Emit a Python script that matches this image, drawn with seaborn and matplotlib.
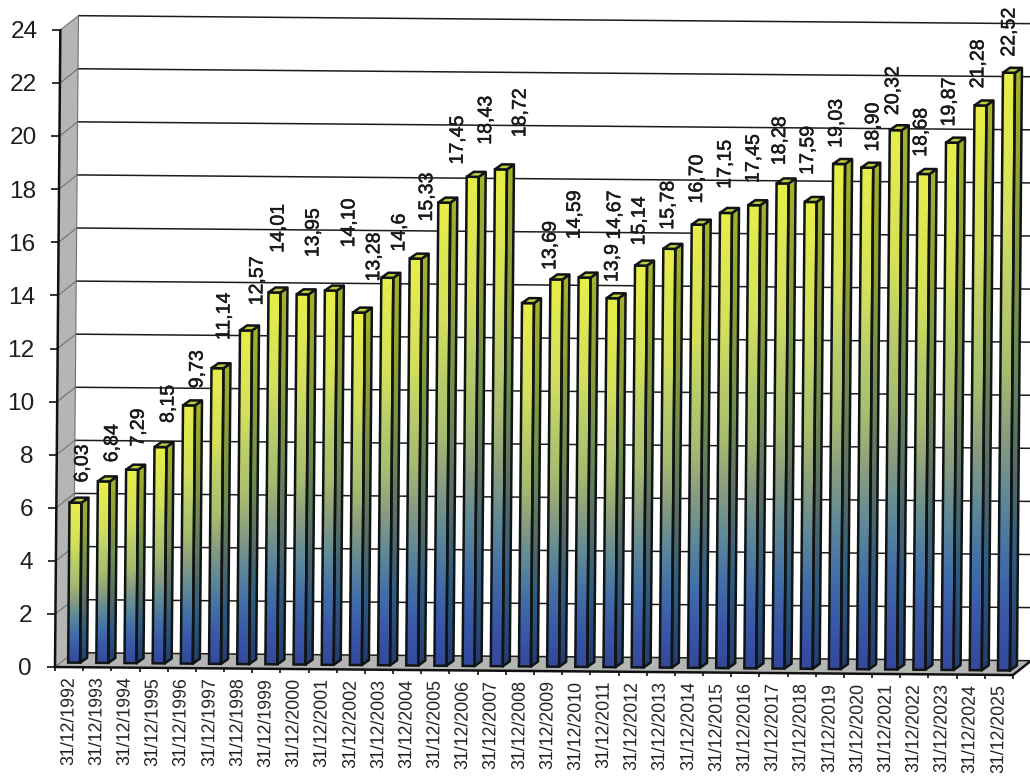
import numpy as np
import pandas as pd
import seaborn as sns
import matplotlib
matplotlib.use("Agg")
import matplotlib.pyplot as plt
import matplotlib.patheffects as pe
from matplotlib.colors import LinearSegmentedColormap
from matplotlib.patches import Polygon
from matplotlib.transforms import Affine2D

# Year-end dates and values
years = list(range(1992, 2026))
dates = [f"31/12/{y}" for y in years]
values = [6.03, 6.84, 7.29, 8.15, 9.73, 11.14, 12.57, 14.01, 13.95, 14.10, 13.28, 14.6,
          15.33, 17.45, 18.43, 18.72, 13.69, 14.59, 14.67, 13.9, 15.14, 15.78, 16.70,
          17.15, 17.45, 18.28, 17.59, 19.03, 18.90, 20.32, 18.68, 19.87, 21.28, 22.52]
value_labels = ["6,03", "6,84", "7,29", "8,15", "9,73", "11,14", "12,57", "14,01", "13,95",
                "14,10", "13,28", "14,6", "15,33", "17,45", "18,43", "18,72", "13,69",
                "14,59", "14,67", "13,9", "15,14", "15,78", "16,70", "17,15", "17,45",
                "18,28", "17,59", "19,03", "18,90", "20,32", "18,68", "19,87", "21,28",
                "22,52"]
y_ticks = list(range(0, 25, 2))

# Hand-placed label nudges (pixels) relative to the top of each bar
label_dx = [6.6, 8, 6, 7.5, 8, 6.5, 11, 3.6, 10.4, 18, 15, 11.7, 11, 13, 13, 19, 22, 18, 30,
            -0.5, -2, -1.5, -1, -1, -1, -3, -3, -3, 5.6, -3, -2.7, -3, -2.6, 0]
label_up = [20, 19, 23, 24, 17, 28, 25, 39.5, 37, 43, 31, 26, 37, 38, 32, 32, 33, 40, 38,
            16, 20, 19, 21, 24, 22, 18, 27, 16, 16, 15, 17, 16, 17, 16]

sns.set_theme(style="white")
plt.rcParams["font.family"] = ["Liberation Sans", "DejaVu Sans"]

W, H = 1030, 778
LEFT, BOTTOM, WIDTH, HEIGHT = 55, 111, 958, 637
fig = plt.figure(figsize=(W / 100, H / 100), dpi=100, facecolor="white")
ax = fig.add_axes([LEFT / W, BOTTOM / H, WIDTH / W, HEIGHT / H])
ax.set_facecolor("none")

df = pd.DataFrame({"date": dates, "value": values})
sns.barplot(data=df, x="date", y="value", width=0.425, ax=ax, fill=True,
            color="white", saturation=1, errorbar=None)
bars = list(ax.patches)
ax.set_xlabel("")
ax.set_ylabel("")
ax.set_xlim(-0.5, 33.5)
ax.set_ylim(0, 24)
ax.set_autoscale_on(False)
for side in ax.spines.values():
    side.set_visible(False)

# The whole chart sits slightly tilted clockwise on the page
tilt = Affine2D().rotate_deg_around(LEFT, BOTTOM, -0.48)
flat = ax.transData + tilt

x_unit, y_unit = WIDTH / 34, HEIGHT / 24


def depth(px_x, px_y):
    return px_x / x_unit, px_y / y_unit


# Wall and floor of the 3-D box
wall_dx, wall_dy = depth(18, 14.5)
x0, x1 = -0.5, 33.5
grey = "#b4b6b4"
ax.add_patch(Polygon([(x0, 0), (x0 + wall_dx, wall_dy), (x0 + wall_dx, 24 + wall_dy), (x0, 24)],
                     closed=True, fc=grey, ec="none", transform=flat, clip_on=False, zorder=1))
ax.add_patch(Polygon([(x0, 0), (x1, 0), (x1 + wall_dx, wall_dy), (x0 + wall_dx, wall_dy)],
                     closed=True, fc=grey, ec="none", transform=flat, clip_on=False, zorder=1))
for v in y_ticks:
    ax.plot([x0 + wall_dx, x1 + wall_dx], [v + wall_dy] * 2, color="#1c1c1c", lw=1.1,
            transform=flat, clip_on=False, zorder=1.5)
    ax.plot([x0, x0 + wall_dx], [v, v + wall_dy], color="#6f7370", lw=0.8,
            transform=flat, clip_on=False, zorder=1.5)
ax.plot([x0 + wall_dx] * 2, [wall_dy, 24 + wall_dy], color="#6f7370", lw=0.8,
        transform=flat, clip_on=False, zorder=1.5)
ax.plot([x0, x0], [0, 24], color="#111111", lw=1.8, transform=flat, clip_on=False, zorder=6)
ax.plot([x0, x1, x1 + wall_dx], [0, 0, wall_dy], color="#111111", lw=1.8,
        transform=flat, clip_on=False, zorder=6)

# Vertical fills used on the bars
front_cmap = LinearSegmentedColormap.from_list("front", [
    (0.00, "#34489c"), (0.10, "#3a5aa8"), (0.19, "#4470a8"), (0.29, "#5f8a98"),
    (0.39, "#8a9c80"), (0.50, "#a8bc70"), (0.62, "#b8cc6c"), (0.75, "#d4e05c"),
    (1.00, "#e8ee48")])
side_cmap = LinearSegmentedColormap.from_list("side", [
    (0.00, "#243c70"), (0.18, "#2e5a80"), (0.35, "#566c68"), (0.55, "#6f8a50"),
    (0.78, "#8ca038"), (1.00, "#a4b22c")])
ramp = np.linspace(1, 0, 256).reshape(-1, 1)

front_dx, front_dy = depth(5, 4.5)
side_dx, side_dy = depth(7, 5)
edge_color, edge_width = "#101414", 1.8


def gradient_face(corners, cmap, extent):
    face = Polygon(corners, closed=True, fc="none", ec=edge_color, lw=edge_width,
                   transform=flat, clip_on=False, zorder=4, joinstyle="round")
    ax.add_patch(face)
    img = ax.imshow(ramp, cmap=cmap, vmin=0, vmax=1, extent=extent, aspect="auto",
                    zorder=3, interpolation="bilinear")
    img.set_transform(flat)
    img.set_clip_box(fig.bbox)
    img.set_clip_path(face)


for k, bar in enumerate(bars):
    left = bar.get_x() + front_dx
    right = left + bar.get_width()
    base = front_dy
    top = bar.get_height() + front_dy
    # Front face: the bar itself, moved forward from the wall, with a fill laid under it
    bar.set_transform(Affine2D().translate(front_dx, front_dy) + flat)
    bar.set(facecolor="none", edgecolor=edge_color, linewidth=edge_width, zorder=4, clip_on=False)
    img = ax.imshow(ramp, cmap=front_cmap, vmin=0, vmax=1, extent=(left, right, base, top),
                    aspect="auto", zorder=3, interpolation="bilinear")
    img.set_transform(flat)
    img.set_clip_box(fig.bbox)
    # Side and cap of the box
    gradient_face([(right, base), (right + side_dx, base + side_dy),
                   (right + side_dx, top + side_dy), (right, top)],
                  side_cmap, (right, right + side_dx, base, top + side_dy))
    ax.add_patch(Polygon([(left, top), (right, top), (right + side_dx, top + side_dy),
                          (left + side_dx, top + side_dy)], closed=True, fc="#c4ce3a",
                         ec=edge_color, lw=edge_width, transform=flat, clip_on=False, zorder=4))
    # Value above the bar
    mid = (left + right) / 2
    ax.text(mid, top, value_labels[k], rotation=89.5, ha="center", va="bottom",
            fontsize=14.1, color="#1a1a1a", clip_on=False, zorder=7,
            transform=flat + Affine2D().translate(label_dx[k], label_up[k]),
            path_effects=[pe.withStroke(linewidth=0.35, foreground="#1a1a1a")])

ax.set_xlim(-0.5, 33.5)
ax.set_ylim(0, 24)

# Ticks between the categories, labels centred on them
ax.set_xticks(np.arange(-0.5, 34), labels=[""] * 35)
ax.set_xticks(np.arange(34), labels=dates, minor=True)
ax.set_yticks(y_ticks, labels=[str(v) for v in y_ticks])
ax.tick_params(axis="x", which="major", bottom=True, length=3, width=1.2, color="#111111")
ax.tick_params(axis="x", which="minor", bottom=True, length=0, pad=6.5, labelsize=12.8,
               labelrotation=89.5, labelcolor="#1f1f1f")
ax.tick_params(axis="y", which="major", left=True, length=5.7, width=1.2, color="#111111",
               pad=10.8, labelsize=17.6, labelcolor="#1f1f1f")

for tick in (ax.xaxis.get_major_ticks() + ax.xaxis.get_minor_ticks()
             + ax.yaxis.get_major_ticks()):
    tick.tick1line.set_transform(tick.tick1line.get_transform() + tilt)
    tick.label1.set_transform(tick.label1.get_transform() + tilt)
    tick.tick1line.set_clip_on(False)

for label in ax.get_xticklabels(minor=True):
    label.set_ha("center")
    label.set_va("top")

fig.savefig("out.png", dpi=100, facecolor="white")
